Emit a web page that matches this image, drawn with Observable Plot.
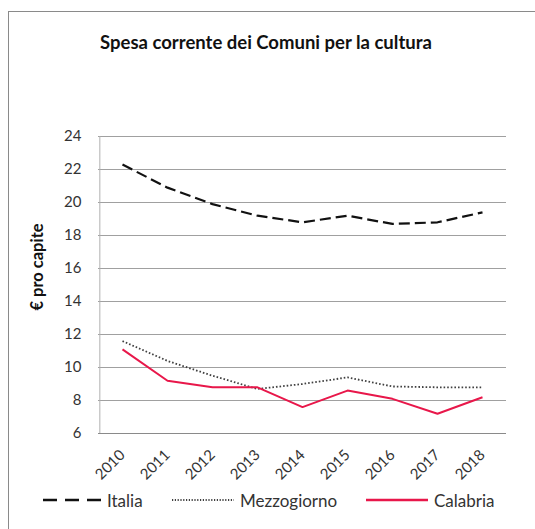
<!DOCTYPE html>
<html>
<head>
<meta charset="utf-8">
<script src="https://cdn.jsdelivr.net/npm/d3@7"></script>
<script src="https://cdn.jsdelivr.net/npm/@observablehq/plot@0.6"></script>
<style>
  html, body { margin: 0; padding: 0; background: #fff; }
  body { width: 535px; height: 529px; position: relative; overflow: hidden; font-family: Lato, "Open Sans", sans-serif; }
  #frame { position: absolute; left: 8px; top: 11px; width: 600px; height: 600px; border-left: 1px solid #8a8a8a; border-top: 1px solid #8a8a8a; }
  #title { position: absolute; left: 0; width: 532px; top: 31px; text-align: center; font-weight: bold; font-size: 18.5px; color: #111; }
  #chart { position: absolute; left: 0; top: 110px; }
  #ylabel { position: absolute; left: 37px; top: 267px; transform: translate(-50%, -50%) rotate(-90deg); font-weight: bold; font-size: 16.5px; white-space: nowrap; color: #111; }
  #legend { position: absolute; left: 0; top: 489px; width: 535px; height: 22px; font-size: 17px; color: #333; }
  .item { position: absolute; top: 0; display: flex; align-items: center; height: 22px; }
  .item svg { margin-right: 6px; }
</style>
</head>
<body>
<div id="frame"></div>
<div id="title">Spesa corrente dei Comuni per la cultura</div>
<div id="chart"></div>
<div id="ylabel">€ pro capite</div>
<div id="legend"></div>
<script>
const years = ["2010","2011","2012","2013","2014","2015","2016","2017","2018"];
const italia = [22.3, 20.9, 19.9, 19.2, 18.8, 19.2, 18.7, 18.8, 19.4];
const mezzogiorno = [11.6, 10.4, 9.5, 8.7, 9.0, 9.4, 8.85, 8.8, 8.8];
const calabria = [11.1, 9.2, 8.8, 8.8, 7.6, 8.6, 8.1, 7.2, 8.2];
const yTicks = [6, 8, 10, 12, 14, 16, 18, 20, 22, 24];

const seriesNames = ["Italia", "Mezzogiorno", "Calabria"];
const seriesStyle = {
  Italia: {stroke: "#111111", strokeWidth: 2.2, dash: "11,5"},
  Mezzogiorno: {stroke: "#404040", strokeWidth: 1.8, dash: "1.6,2"},
  Calabria: {stroke: "#e8174a", strokeWidth: 2, dash: null}
};
const seriesValues = {Italia: italia, Mezzogiorno: mezzogiorno, Calabria: calabria};

const lineMarks = seriesNames.map(name => {
  const data = years.map((y, i) => ({year: y, value: seriesValues[name][i]}));
  const s = seriesStyle[name];
  return Plot.line(data, {x: "year", y: "value", stroke: s.stroke, strokeWidth: s.strokeWidth,
    strokeDasharray: s.dash ?? undefined, strokeLinejoin: "round", strokeLinecap: "butt"});
});

const chart = Plot.plot({
  width: 535,
  height: 380,
  marginTop: 26,
  marginBottom: 57,
  marginLeft: 98,
  marginRight: 29,
  style: {fontFamily: "Lato, 'Open Sans', sans-serif", fontSize: "15px", color: "#333", background: "transparent", overflow: "visible"},
  x: {type: "point", domain: years, padding: 0.5, label: null, tickSize: 0, tickPadding: 19, tickRotate: -45},
  y: {domain: [6, 24], ticks: yTicks, label: null, tickSize: 0, tickPadding: 17},
  marks: [
    Plot.ruleY(yTicks.filter(t => t !== 6), {stroke: "#a0a0a0", strokeWidth: 1}),
    Plot.ruleY([6], {stroke: "#8a8a8a", strokeWidth: 1}),
    Plot.ruleX([years[0]], {stroke: "#b0b0b0", strokeWidth: 1, y1: 6, y2: 24, dx: -22.67}),
    ...lineMarks
  ]
});
document.getElementById("chart").appendChild(chart);

// Legend
const legendItems = [
  {name: "Italia", left: 43, w: 58},
  {name: "Mezzogiorno", left: 172, w: 62},
  {name: "Calabria", left: 366, w: 62}
];
const legend = document.getElementById("legend");
for (const it of legendItems) {
  const s = seriesStyle[it.name];
  const div = document.createElement("div");
  div.className = "item";
  div.style.left = it.left + "px";
  const ns = "http://www.w3.org/2000/svg";
  const sw = document.createElementNS(ns, "svg");
  sw.setAttribute("width", it.w);
  sw.setAttribute("height", 10);
  const ln = document.createElementNS(ns, "line");
  ln.setAttribute("x1", 0); ln.setAttribute("x2", it.w);
  ln.setAttribute("y1", 5); ln.setAttribute("y2", 5);
  ln.setAttribute("stroke", s.stroke);
  ln.setAttribute("stroke-width", it.name === "Italia" ? 2.5 : s.strokeWidth + 0.4);
  if (it.name === "Italia") ln.setAttribute("stroke-dasharray", "14,8");
  else if (s.dash) ln.setAttribute("stroke-dasharray", "1.2,1.6");
  sw.appendChild(ln);
  div.appendChild(sw);
  const t = document.createElement("span");
  t.textContent = it.name;
  div.appendChild(t);
  legend.appendChild(div);
}
</script>
</body>
</html>
